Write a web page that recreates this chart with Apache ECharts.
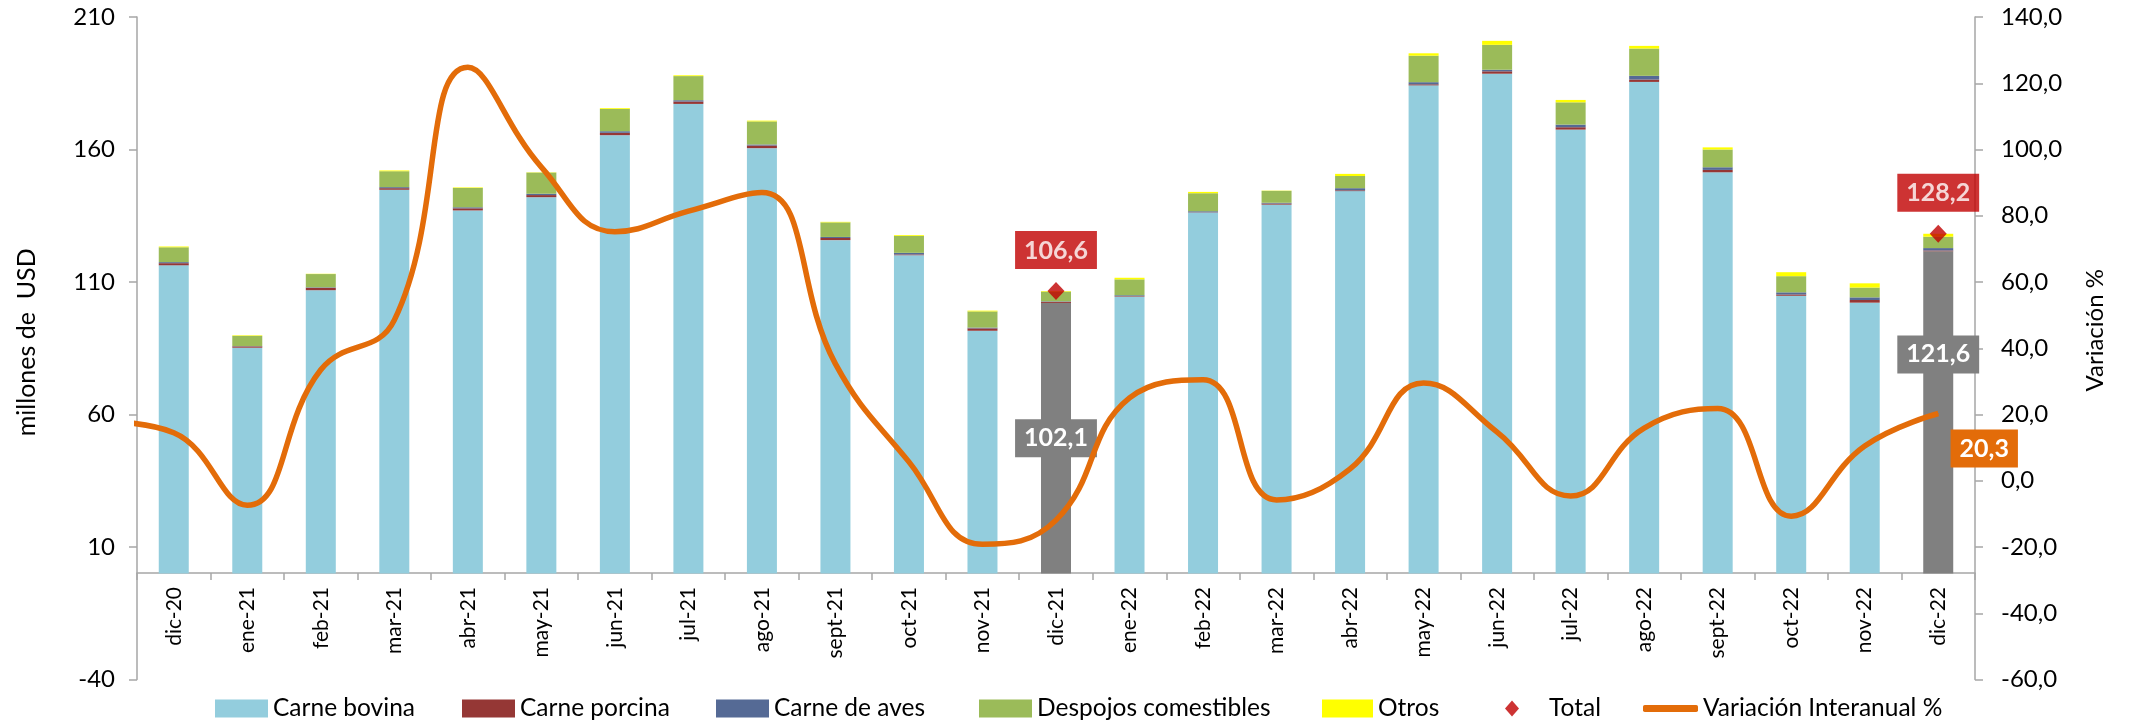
<!DOCTYPE html>
<html>
<head>
<meta charset="utf-8">
<script src="https://cdn.jsdelivr.net/npm/echarts@6/dist/echarts.min.js"></script>
<style>
html,body{margin:0;padding:0;background:#fff;}
#c{width:2129px;height:723px;}
</style>
</head>
<body>
<div id="c"></div>
<script>
const cats = ['dic-20','ene-21','feb-21','mar-21','abr-21','may-21','jun-21','jul-21','ago-21','sept-21','oct-21','nov-21','dic-21','ene-22','feb-22','mar-22','abr-22','may-22','jun-22','jul-22','ago-22','sept-22','oct-22','nov-22','dic-22'];
const bovina   = [116.3, 85.2,106.9,144.8,137.0,142.0,165.4,177.2,160.5,125.8,120.1, 91.6,102.1,104.5,136.2,139.2,144.3,184.2,188.6,167.5,185.5,151.4,104.8,102.2,121.6];
const porcina  = [0.8,0.5,0.9,0.6,0.8,0.8,0.9,0.9,1.0,0.8,0.3,0.9,0.4,0.2,0.1,0.4,0.3,0.4,0.9,0.9,0.9,0.9,0.5,1.0,0.3];
const aves     = [0.4,0.1,0.2,0.4,0.4,0.5,0.6,0.5,0.4,0.4,0.6,0.3,0.2,0.3,0.4,0.3,0.8,0.8,0.6,1.0,1.4,1.0,0.8,1.0,0.9];
const despojos = [5.6,3.9,5.0,6.0,7.3,8.0,8.4,9.1,8.7,5.5,6.4,6.1,3.7,6.0,6.8,4.5,4.6,10.0,9.4,8.4,10.3,6.7,6.1,3.7,4.3];
const otros    = [0.3,0.2,0.1,0.3,0.2,0.1,0.3,0.3,0.3,0.2,0.3,0.3,0.2,0.6,0.5,0.1,0.8,0.9,1.5,0.9,1.0,0.8,1.5,1.6,1.1];
const total    = [null,null,null,null,null,null,null,null,null,null,null,null,106.6,null,null,null,null,null,null,null,null,null,null,null,128.2];
const variacion = [14.5,-7.4,33.5,48.5,124.8,94.7,75.2,81.4,87.0,35.3,5.7,-19.2,-11.9,25.0,30.5,-5.8,3.6,29.5,14.7,-4.6,15.9,21.8,-10.7,10.5,20.3];
const variacionNov20 = 18.0; // previous month, only its tail is visible at the left edge
const destacados = ['dic-21','dic-22'];
const leftTicks  = [-40,10,60,110,160,210];

const fmt = v => Number(v).toFixed(1).replace('.', ',');
const FONT = 'Lato';

const boxLabel = (bg, extra) => Object.assign({
  show: true, color: '#fff', fontFamily: FONT, fontWeight: 'bold', fontSize: 25,
  backgroundColor: bg, padding: [7, 9, 6, 9], formatter: p => fmt(Array.isArray(p.value) ? p.value[1] : p.value)
}, extra || {});

const bovinaData = bovina.map((v, i) => {
  if (destacados.indexOf(cats[i]) < 0) return v;
  const last = i === cats.length - 1;
  return { value: v, itemStyle: { color: '#808080' },
           label: boxLabel('#808080', { position: 'inside', offset: last ? [0, -58] : [0, 0] }) };
});

const linePts = [{ value: [-1, variacionNov20] }].concat(variacion.map((v, i) => {
  if (i === variacion.length - 1) {
    return { value: [i, v], label: boxLabel('#E36C09', { position: 'inside', offset: [46, 35] }) };
  }
  return { value: [i, v] };
}));

const axisGray = '#A6A6A6';
const legendItems = [
  ['Carne bovina', 210, 'rect', 53, 18],
  ['Carne porcina', 457, 'rect', 53, 18],
  ['Carne de aves', 711, 'rect', 53, 18],
  ['Despojos comestibles', 974, 'rect', 53, 18],
  ['Otros', 1317, 'rect', 51, 18],
  ['Total', 1500, 'diamond', 14, 16],
  ['Variación Interanual %', 1638, 'roundRect', 55, 7]
];
const legends = legendItems.map(([name, left, icon, w, h]) => ({
  data: [{ name: name, icon: icon }], left: left, top: 691, itemWidth: w, itemHeight: h,
  itemGap: 0, selectedMode: false,
  formatter: n => (n === 'Total' ? '    ' + n : n),
  textStyle: { fontFamily: FONT, fontSize: 24.5, color: '#000' }
}));

const barBase = { type: 'bar', stack: 'exp', barWidth: 30, xAxisIndex: 0, yAxisIndex: 0 };

const option = {
  animation: false,
  backgroundColor: '#fff',
  textStyle: { fontFamily: FONT },
  legend: legends,
  grid: { left: 137, right: 154, top: 17, bottom: 43.5, containLabel: false, outerBoundsMode: 'none' },
  xAxis: [
    { type: 'category', data: cats, boundaryGap: true, position: 'bottom', offset: -106.5,
      axisLine: { show: true, onZero: false, lineStyle: { color: axisGray, width: 1.5 } },
      axisTick: { show: true, interval: 0, length: 7, lineStyle: { color: axisGray, width: 1.5 } },
      axisLabel: { interval: 0, rotate: 90, fontSize: 21, color: '#000', fontFamily: FONT, margin: 14 },
      splitLine: { show: false } },
    { type: 'value', min: -0.5, max: 24.5, show: false, splitLine: { show: false } }
  ],
  yAxis: [
    { type: 'value', min: -40, max: 210, position: 'left',
      axisLine: { show: true, onZero: false, lineStyle: { color: axisGray, width: 1.5 } },
      axisTick: { show: true, length: 8, customValues: leftTicks, lineStyle: { color: axisGray, width: 1.5 } },
      axisLabel: { customValues: leftTicks, fontSize: 24, color: '#000', fontFamily: FONT, margin: 22 },
      splitLine: { show: false },
      name: 'millones de  USD', nameLocation: 'middle', nameRotate: 90, nameGap: 98,
      nameTextStyle: { fontSize: 25, color: '#000', fontFamily: FONT, padding: [0, 0, 0, 12] } },
    { type: 'value', min: -60, max: 140, interval: 20, position: 'right',
      axisLine: { show: true, onZero: false, lineStyle: { color: axisGray, width: 1.5 } },
      axisTick: { show: true, length: 8, lineStyle: { color: axisGray, width: 1.5 } },
      axisLabel: { fontSize: 24, color: '#000', fontFamily: FONT, margin: 26, formatter: v => fmt(v) },
      splitLine: { show: false },
      name: 'Variación %', nameLocation: 'middle', nameRotate: 90, nameGap: 108,
      nameTextStyle: { fontSize: 24, color: '#000', fontFamily: FONT, padding: [0, 0, 0, 36] } }
  ],
  series: [
    Object.assign({}, barBase, { name: 'Carne bovina', data: bovinaData, itemStyle: { color: '#93CDDD' } }),
    Object.assign({}, barBase, { name: 'Carne porcina', data: porcina, itemStyle: { color: '#953735' } }),
    Object.assign({}, barBase, { name: 'Carne de aves', data: aves, itemStyle: { color: '#556A95' } }),
    Object.assign({}, barBase, { name: 'Despojos comestibles', data: despojos, itemStyle: { color: '#9BBB59' } }),
    Object.assign({}, barBase, { name: 'Otros', data: otros, itemStyle: { color: '#FFFF00' } }),
    { name: 'Total', type: 'scatter', xAxisIndex: 0, yAxisIndex: 0, symbol: 'diamond', symbolSize: [17, 18],
      itemStyle: { color: '#C00000' }, z: 6,
      data: total,
      label: boxLabel('#C00000', { position: 'top', distance: 13 }) },
    { name: 'Variación Interanual %', type: 'line', xAxisIndex: 1, yAxisIndex: 1, smooth: 0.45,
      symbol: 'circle', symbolSize: 1, showSymbol: true, clip: true, z: 5,
      color: '#E36C09', itemStyle: { color: '#E36C09' },
      lineStyle: { color: '#E36C09', width: 5.5 },
      data: linePts }
  ]
};

const chart = echarts.init(document.getElementById('c'), null, { renderer: 'canvas' });
chart.setOption(option);
</script>
</body>
</html>
